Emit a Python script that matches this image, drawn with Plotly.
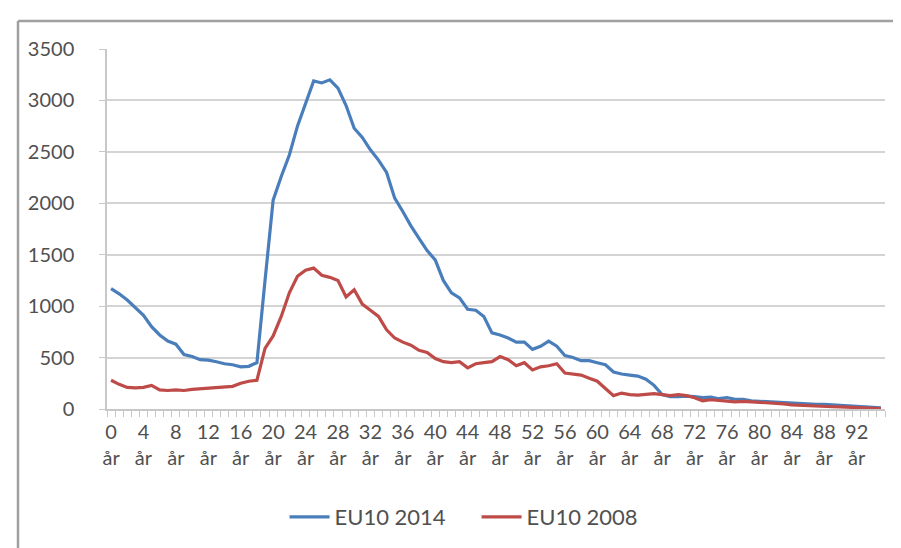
import plotly.graph_objects as go

ages = list(range(96))
tick_ages = list(range(0, 93, 4))
tick_text = [f"{a}<br>år" for a in tick_ages]
y_ticks = [0, 500, 1000, 1500, 2000, 2500, 3000, 3500]

eu10_2014 = [1170, 1120, 1060, 990, 910, 800, 720, 660, 630, 530,
             510, 480, 475, 460, 440, 430, 410, 415, 450, 1250,
             2030, 2260, 2470, 2750, 2970, 3190, 3170, 3200, 3120, 2950,
             2730, 2640, 2520, 2420, 2300, 2050, 1920, 1780, 1660, 1540,
             1450, 1250, 1130, 1080, 970, 960, 900, 740, 720, 690,
             650, 650, 580, 610, 660, 610, 520, 500, 470, 470,
             450, 430, 360, 340, 330, 320, 290, 230, 140, 120,
             120, 125, 120, 110, 115, 100, 110, 95, 95, 80,
             75, 70, 65, 60, 55, 50, 50, 45, 45, 40,
             35, 30, 25, 20, 15, 10]

eu10_2008 = [280, 240, 210, 205, 210, 230, 185, 180, 185, 180,
             190, 195, 200, 210, 215, 220, 250, 270, 280, 590,
             710, 900, 1130, 1290, 1350, 1370, 1300, 1280, 1250, 1090,
             1160, 1020, 960, 900, 770, 690, 650, 620, 570, 550,
             490, 460, 450, 460, 400, 440, 450, 460, 510, 480,
             420, 450, 380, 410, 420, 440, 350, 340, 330, 300,
             270, 200, 130, 155, 140, 135, 140, 150, 140, 130,
             140, 130, 110, 80, 90, 85, 80, 70, 75, 70,
             70, 65, 60, 50, 40, 35, 30, 25, 25, 22,
             20, 18, 15, 15, 12, 5]

FONT = "Lato"
TXT = "#505050"
GRID = "#d4d4d4"

fig = go.Figure()
fig.add_trace(go.Scatter(x=ages, y=eu10_2014, mode="lines", name="EU10 2014",
                         line=dict(color="#4a7ebb", width=3.2)))
fig.add_trace(go.Scatter(x=ages, y=eu10_2008, mode="lines", name="EU10 2008",
                         line=dict(color="#be4b48", width=3.2)))

fig.update_layout(
    width=901, height=548,
    margin=dict(l=99, r=24, t=41, b=147),
    paper_bgcolor="white", plot_bgcolor="white",
    font=dict(family=FONT, size=20, color=TXT),
    showlegend=True,
    legend=dict(orientation="h", x=0.475, xanchor="center", y=-0.30, yanchor="middle",
                font=dict(family=FONT, size=22, color=TXT), traceorder="normal",
                itemwidth=40, entrywidth=137, entrywidthmode="pixels"),
    xaxis=dict(
        range=[-0.5, 95.5], tickmode="array", tickvals=tick_ages, ticktext=tick_text,
        ticks="outside", ticklen=0, showgrid=False, zeroline=False,
        showline=True, linecolor="#c8c8c8", linewidth=1.5,
        tickfont=dict(family=FONT, size=20, color=TXT),
        ticklabelstandoff=4,
        minor=dict(tickmode="linear", tick0=-0.5, dtick=1, ticks="outside",
                   ticklen=6, tickcolor="#c8c8c8", tickwidth=1, showgrid=False),
    ),
    yaxis=dict(
        range=[0, 3500], tickmode="array", tickvals=y_ticks,
        ticks="outside", ticklen=6, tickcolor="#c8c8c8",
        showgrid=True, gridcolor=GRID, gridwidth=2, zeroline=False,
        showline=True, linecolor="#c8c8c8", linewidth=1.5,
        tickfont=dict(family=FONT, size=20, color=TXT),
        ticklabelstandoff=21,
    ),
)

# outer chart frame (left and top edges visible in the screenshot)
left_x = (10 - 99) / 778
top_y = (401 - 13) / 360
right_x = (901 - 99) / 778
fig.add_shape(type="line", xref="paper", yref="paper", x0=left_x, x1=left_x,
              y0=-0.5, y1=top_y, line=dict(color="#a0a0a0", width=2.5))
fig.add_shape(type="line", xref="paper", yref="paper", x0=left_x, x1=right_x,
              y0=top_y, y1=top_y, line=dict(color="#a0a0a0", width=2.5))

fig.write_html("out.html")
